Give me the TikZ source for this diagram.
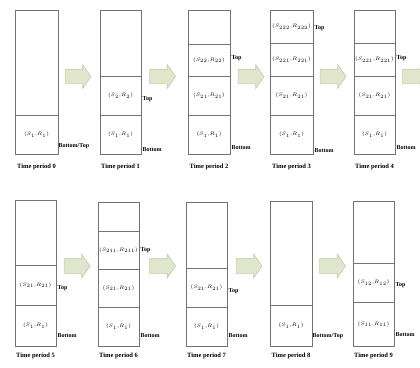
\documentclass[tikz,border=0pt]{standalone}
\usepackage{fontspec}
\setmainfont{Liberation Serif}
\usetikzlibrary{shapes.arrows}

\tikzset{
  stackbox/.style={draw=black!55, line width=1pt},
  item/.style={font=\fontsize{5.5}{6.5}\selectfont, inner sep=0pt},
  tag/.style={anchor=west, inner sep=0.5pt, font=\bfseries\fontsize{6}{7}\selectfont},
  period/.style={inner sep=0pt, font=\bfseries\fontsize{6.5}{7}\selectfont},
  pusharrow/.style={single arrow, draw={rgb,255:red,196;green,204;blue,170},
    fill={rgb,255:red,224;green,230;blue,204}, line width=0.6pt,
    minimum height=26pt, inner sep=7pt, single arrow head extend=4.5pt,
    single arrow tip angle=110}
}

\begin{document}
\begin{tikzpicture}[x=1pt, y=-1pt]
	\useasboundingbox (0,0) rectangle (420,367);
	\clip (0,0) rectangle (420,367);
	% stacks: left/right/top/bottom/dividers
	\foreach \xa/\xb/\ya/\yb/\cuts in {15/58/10/154/{115}, 100/141/10/154/{76,115},
		188/230/10/154/{44,76,115}, 270/313/10/154/{43,76,115}, 354/395/10/154/{43,76,115},
		15/56/200/346/{265,305}, 98/139/202/346/{231,269,307}, 186/227/202/346/{268,307},
		270/312/201/346/{305}, 353/394/201/346/{263,302}}
	{
		\draw[stackbox] (\xa,\ya) rectangle (\xb,\yb);
		\foreach \c in \cuts \draw[stackbox] (\xa,\c) -- (\xb,\c);
	}
	% stack entries
	\foreach \n/\x/\y/\s in {0a/36.5/134.5/1,
		1a/120.5/134.5/1, 1b/120.5/95.5/2,
		2a/209/134.5/1, 2b/209/95.5/21, 2c/209/60/22,
		3a/291.5/134.5/1, 3b/291.5/95.5/21, 3c/291.5/59.5/221, 3d/291.5/26.5/222,
		4a/374.5/134.5/1, 4b/374.5/95.5/21, 4c/374.5/59.5/221,
		5a/35.5/325.5/1, 5b/35.5/285/21,
		6a/118.5/326.5/1, 6b/118.5/288/21, 6c/118.5/250/211,
		7a/206.5/326.5/1, 7b/206.5/287.5/21,
		8a/291/325.5/1,
		9a/373.5/324/11, 9b/373.5/282.5/12}
		\node[item] (s\n) at (\x,\y) {$(S_{\s},\!R_{\s})$};
	% arrows between periods
	\foreach \n/\x/\y in {01/75.5/76.5, 12/160/76.5, 23/248.5/76.5, 34/330.5/76.5, 45/413/76.5,
		56/74.5/266, 67/160/266, 78/246.5/266, 89/330/266}
		\node[pusharrow] (a\n) at (\x,\y) {};
	% top and bottom marks
	\foreach \n/\x/\y/\t in {1t/142/99/Top, 1b/142/150/Bottom, 2t/231/58/Top, 2b/231/148/Bottom,
		3t/314/28/Top, 3b/314/151/Bottom, 4t/396/58/Top, 4b/396/148/Bottom,
		5t/57/288/Top, 5b/57/336/Bottom, 6t/140/250/Top, 6b/140/336/Bottom,
		7t/228/291/Top, 7b/228/336/Bottom, 9t/395/285/Top, 9b/395/335/Bottom}
		\node[tag] (t\n) at (\x,\y) {\t};
	\node[tag] (t0) at (58,146) {Bottom/Top};
	\node[tag] (t8) at (312,336) {Bottom/Top};
	% period captions
	\foreach \n/\x/\y in {0/36.5/167, 1/120.5/167, 2/209/167, 3/291.5/167, 4/374.5/167,
		5/35.5/356, 6/118.5/356, 7/206.5/356, 8/291/356, 9/373.5/356}
		\node[period] (tp\n) at (\x,\y) {Time period \n};
\end{tikzpicture}
\end{document}
